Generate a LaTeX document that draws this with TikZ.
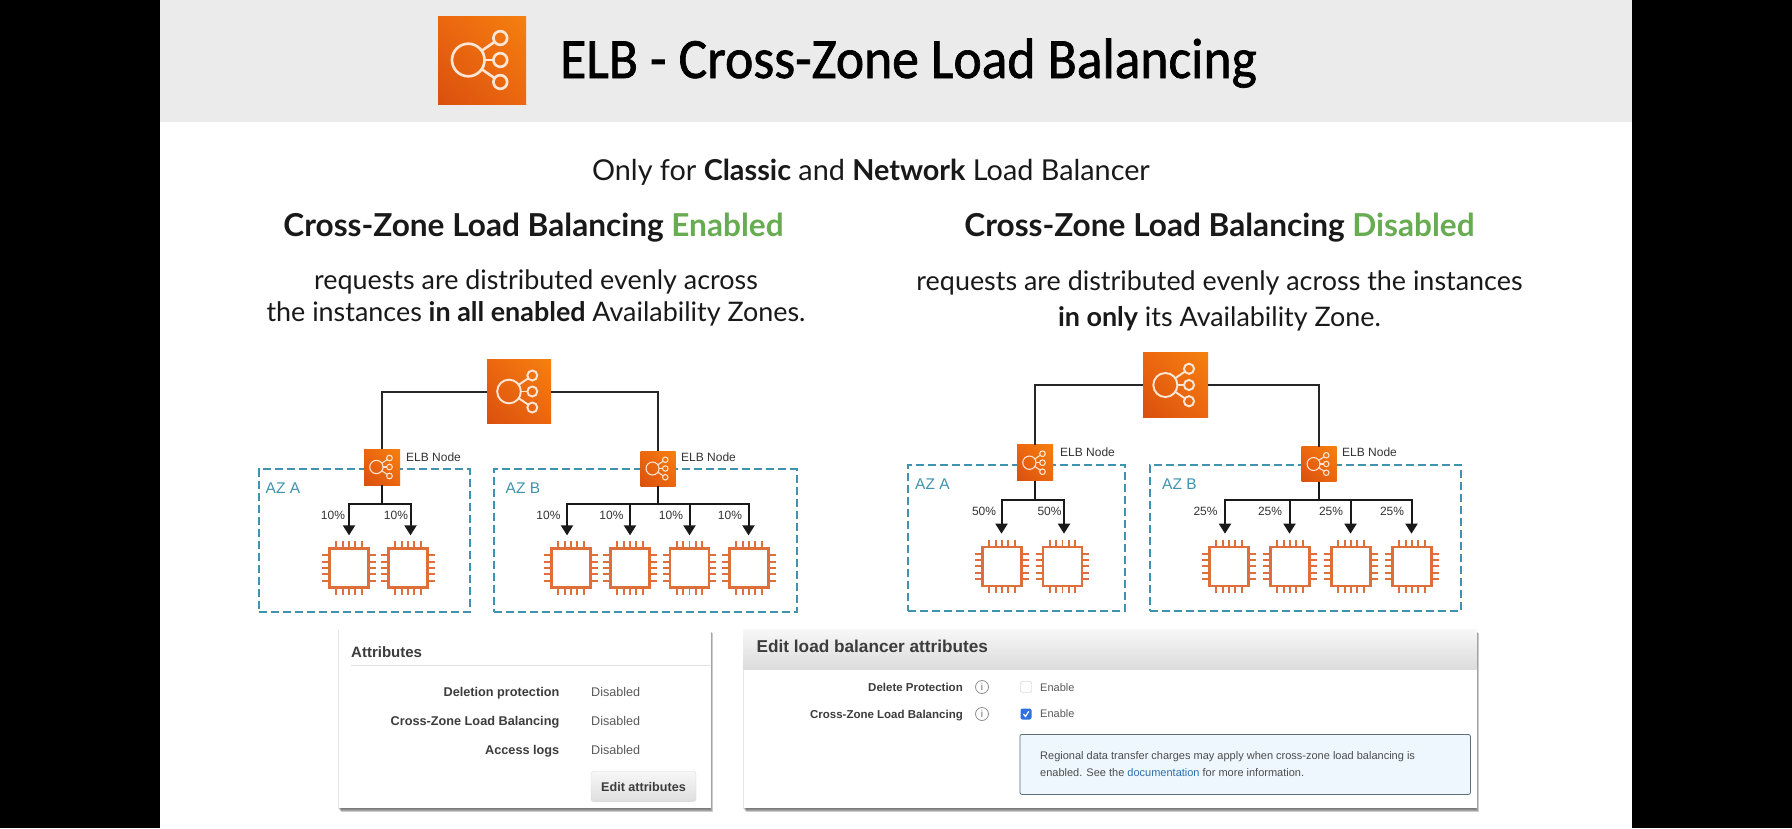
\documentclass[tikz,border=0pt]{standalone}
\usepackage{fontspec}
\usepackage{xcolor}
\setmainfont{Lato}
\newfontfamily\panelfont{Liberation Sans}
\newfontfamily\titlefont[FakeStretch=.94,FakeBold=1.2]{Carlito}
\usetikzlibrary{arrows.meta,shadows,shadings}
\definecolor{slidegrey}{HTML}{EBEBEB}
\definecolor{elbdark}{HTML}{D9500E}
\definecolor{elblight}{HTML}{F5800F}
\definecolor{elbmid}{HTML}{EC670F}
\definecolor{glyph}{HTML}{FBE6D6}
\definecolor{chipline}{HTML}{DE6E3A}
\definecolor{azblue}{HTML}{3F93AE}
\definecolor{okgreen}{HTML}{68AC52}
\definecolor{panelink}{HTML}{3C3C3C}
\definecolor{tickblue}{HTML}{2F6FDE}
\definecolor{notefill}{HTML}{EDF7FD}
\definecolor{noteline}{HTML}{5B6F80}
\definecolor{linkblue}{HTML}{2F6EA8}

\begin{document}
\begin{tikzpicture}[x=1pt, y=-1pt,
    elb/.style={inner sep=0, outer sep=0, minimum size=#1, lower left=elbdark, upper right=elblight, lower right=elbmid, upper left=elbmid,
        path picture={\begin{scope}[shift={(path picture bounding box.center)}, x=#1pt, y=#1pt, draw=glyph, line width=0.03*#1]
            \draw (-.156,0) circle (.185);
            \foreach \s in {-.25,0,.25} \draw (.208,\s) circle (.078);
            \draw (.029,0) -- (.13,0);
            \draw (-.004,.105) -- (.144,.206);
            \draw (-.004,-.105) -- (.144,-.206);
        \end{scope}}},
    wire/.style={draw=black!85, line width=2},
    flow/.style={draw=black!90, line width=2, -{Triangle[width=12pt,length=10pt]}, shorten >=12pt},
    azbox/.style={draw=azblue, line width=1.8, dash pattern=on 8pt off 4pt, anchor=north west, inner sep=0},
    chip/.style={draw=chipline, line width=2.3, fill=white, inner sep=0, minimum size=39},
    pin/.style={draw=chipline, line width=1.9},
    txt/.style={inner sep=0, text=black!90},
    small/.style={inner sep=0, text=black!80, font=\panelfont\fontsize{12}{14}\selectfont},
    azlabel/.style={inner sep=0, anchor=west, text=azblue, font=\panelfont\fontsize{15.5}{18}\selectfont},
    panel/.style={fill=white, anchor=north west, inner sep=0,
        drop shadow={shadow xshift=-1pt, shadow yshift=-1pt, fill=black, opacity=.1},
        drop shadow={shadow xshift=0pt, shadow yshift=-2pt, fill=black, opacity=.15},
        drop shadow={shadow xshift=1pt, shadow yshift=-3pt, fill=black, opacity=.2},
        drop shadow={shadow xshift=2pt, shadow yshift=-4pt, fill=black, opacity=.2}},
    key/.style={inner sep=0, anchor=east, text=panelink, font=\panelfont\bfseries\fontsize{#1}{14}\selectfont},
    val/.style={inner sep=0, anchor=west, text=black!65, font=\panelfont\fontsize{#1}{14}\selectfont},
    info/.style={circle, draw=black!45, line width=.8, inner sep=0, minimum size=13, text=black!60, font=\panelfont\fontsize{10}{10}\selectfont},
    tick/.style={rounded corners=2, inner sep=0, minimum size=11}
    ]
    \useasboundingbox (0,0) rectangle (1792,828);
    \fill[black] (0,0) rectangle (1792,828);
    \fill[white] (160,0) rectangle (1632,828);
    \fill[slidegrey] (160,0) rectangle (1632,122);

    \node[elb=88] (logo) at (482,60) {};
    \node[txt, anchor=base west, text=black, font=\titlefont\fontsize{57}{60}\selectfont] (title) at (560,78) {ELB - Cross-Zone Load Balancing};

    \node[txt, font=\fontsize{28.8}{32}\selectfont] (sub) at (871,172) {Only for \textbf{Classic} and \textbf{Network} Load Balancer};
    \node[txt, font=\bfseries\fontsize{31.6}{36}\selectfont] (headL) at (533.5,228) {Cross-Zone Load Balancing \textcolor{okgreen}{Enabled}};
    \node[txt, font=\bfseries\fontsize{31.6}{36}\selectfont] (headR) at (1219.5,228) {Cross-Zone Load Balancing \textcolor{okgreen}{Disabled}};
    \node[txt, font=\fontsize{26.9}{32}\selectfont] (descL) at (536,299) {\begin{tabular}{@{}c@{}}requests are distributed evenly across \\ the instances \textbf{in all enabled} Availability Zones.\end{tabular}};
    \node[txt, font=\fontsize{26.9}{36.6}\selectfont] (descR) at (1219.5,301) {\begin{tabular}{@{}c@{}}requests are distributed evenly across the instances \\ \textbf{in only} its Availability Zone.\end{tabular}};

    \node[azbox, minimum width=211, minimum height=142.5] (azA1) at (258,468.3) {};
    \node[azbox, minimum width=303, minimum height=142.5] (azB1) at (493,468.3) {};
    \node[azbox, minimum width=217, minimum height=146] (azA2) at (907,464) {};
    \node[azbox, minimum width=311, minimum height=146] (azB2) at (1149,464) {};
    \node[azlabel] (azt1) at (265.5,488) {AZ A};
    \node[azlabel] (azt2) at (505.5,488) {AZ B};
    \node[azlabel] (azt3) at (915,484) {AZ A};
    \node[azlabel] (azt4) at (1162,484) {AZ B};

    \node[elb=64] (lb1) at (519,391.5) {};
    \node[elb=36] (n1) at (382,467) {};
    \node[elb=35] (n2) at (658,468.5) {};
    \node[elb=65] (lb2) at (1175.5,385) {};
    \node[elb=36] (n3) at (1035,462.7) {};
    \node[elb=35] (n4) at (1319,464) {};
    \draw[wire] (lb1.west) -| (n1.north);
    \draw[wire] (lb1.east) -| (n2.north);
    \draw[wire] (lb2.west) -| (n3.north);
    \draw[wire] (lb2.east) -| (n4.north);
    \node[small, anchor=west] (t1) at (406,457.7) {ELB Node};
    \node[small, anchor=west] (t2) at (681,457.7) {ELB Node};
    \node[small, anchor=west] (t3) at (1060,452.7) {ELB Node};
    \node[small, anchor=west] (t4) at (1342,452.7) {ELB Node};

    \foreach \c/\x/\y in {a/349/568, b/408/568, c/571/568, d/630/568, e/689.5/568, f/749/568,
        g/1002/566.3, h/1062.5/566.3, i/1229/566.3, j/1290/566.3, k/1351/566.3, l/1412/566.3}{
        \node[chip] (chip\c) at (\x,\y) {};
        \foreach \p in {-12.6,-6.3,0,6.3,12.6}{
            \draw[pin] ([xshift=\p]chip\c.north) -- ++(0,-6);
            \draw[pin] ([xshift=\p]chip\c.south) -- ++(0,6);
            \draw[pin] ([yshift=\p]chip\c.west) -- ++(-6,0);
            \draw[pin] ([yshift=\p]chip\c.east) -- ++(6,0);
        }
    }

    \foreach \n/\c/\x/\y/\lx/\pct in {n1/a/349/503.7/333/10\%, n1/b/410.5/503.7/396/10\%,
        n2/c/567/503.7/548.5/10\%, n2/d/630/503.7/611.5/10\%, n2/e/689.5/503.7/671/10\%, n2/f/748.5/503.7/730/10\%,
        n3/g/1001.5/500/984/50\%, n3/h/1064/500/1049.5/50\%,
        n4/i/1225/500/1205.5/25\%, n4/j/1289.5/500/1270/25\%, n4/k/1350.5/500/1331/25\%, n4/l/1411.5/500/1392/25\%}{
        \coordinate (bus\c) at (\x,\y);
        \draw[flow] (\n.south) |- (bus\c) -- (bus\c |- chip\c.north);
        \node[small] (pct\c) at (\lx,\y+11.5) {\pct};
    }

    \node[panel, minimum width=372, minimum height=179] (attr) at (339,629) {};
    \node[inner sep=0, anchor=west, text=panelink, font=\panelfont\bfseries\fontsize{15}{18}\selectfont] (attrhead) at (351,652) {Attributes};
    \coordinate (attrrule) at (351,665.5);
    \draw[black!12, line width=.8] (attrrule) -- (attrrule -| attr.east);
    \node[key=12.7] (k1) at (559.5,693) {Deletion protection};
    \node[key=12.7] (k2) at (559.5,722) {Cross-Zone Load Balancing};
    \node[key=12.7] (k3) at (559.5,751) {Access logs};
    \node[val=12.6] (v1) at (591,692) {Disabled};
    \node[val=12.6] (v2) at (591,721) {Disabled};
    \node[val=12.6] (v3) at (591,750) {Disabled};
    \node[rounded corners=3, draw=black!15, top color=black!3, bottom color=black!13, inner sep=0, minimum width=105, minimum height=30.5, text=panelink, font=\panelfont\bfseries\fontsize{12.6}{14}\selectfont] (editbtn) at (643.5,786.5) {Edit attributes};

    \node[panel, minimum width=733, minimum height=179] (edit) at (743.5,629) {};
    \node[anchor=north west, inner sep=0, minimum width=733, minimum height=40.5, top color=black!3, bottom color=black!14] (edithead) at (743.5,629) {};
    \node[inner sep=0, anchor=west, text=panelink, font=\panelfont\bfseries\fontsize{17.2}{20}\selectfont] (edittitle) at (756.5,646.5) {Edit load balancer attributes};
    \node[key=11.5] (k4) at (963,687.5) {Delete Protection};
    \node[key=11.5] (k5) at (963,715.5) {Cross-Zone Load Balancing};
    \node[info] (i1) at (982,687) {i};
    \node[info] (i2) at (982,714) {i};
    \node[tick, draw=black!25, fill=white] (box1) at (1026,687) {};
    \node[tick, fill=tickblue] (box2) at (1026,714) {};
    \draw[white, line width=1.2] ([shift={(-2.5,0)}]box2.center) -- ([shift={(-.5,2.5)}]box2.center) -- ([shift={(2.8,-2.8)}]box2.center);
    \node[val=11] (e1) at (1040,687.5) {Enable};
    \node[val=11] (e2) at (1040,714) {Enable};
    \node[rounded corners=2, draw=noteline, fill=notefill, line width=.8, inner sep=0, minimum width=450.5, minimum height=60, anchor=north west] (note) at (1019.5,734) {};
    \node[inner sep=0, anchor=west, text=black!70, font=\panelfont\fontsize{11}{17}\selectfont] (notetxt) at (1040,765) {\begin{tabular}{@{}l@{}}Regional data transfer charges may apply when cross-zone load balancing is \\ enabled. See the \textcolor{linkblue}{documentation} for more information.\end{tabular}};
\end{tikzpicture}
\end{document}
